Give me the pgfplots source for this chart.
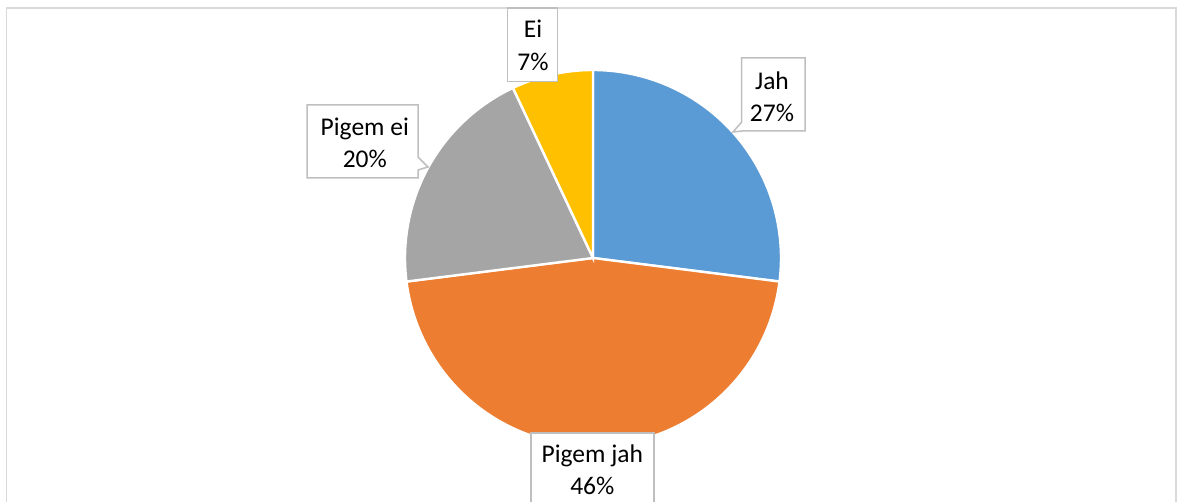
\documentclass[border=0pt]{standalone}
\usepackage{pgfplots}
\pgfplotsset{compat=1.18}
\usepackage{fontspec}
\setmainfont{Carlito}
\definecolor{pblue}{HTML}{5B9BD5}
\definecolor{porange}{HTML}{ED7D31}
\definecolor{pgray}{HTML}{A5A5A5}
\definecolor{pgold}{HTML}{FFC000}
\definecolor{frame}{HTML}{D9D9D9}
\definecolor{boxc}{HTML}{BFBFBF}
% shares (percent), clockwise from 12 o'clock
\def\vA{27}\def\vB{46}\def\vC{20}\def\vD{7}
\def\cx{593}\def\cy{258}\def\rr{188}
\begin{document}
\begin{tikzpicture}
\path[use as bounding box] (0,0) rectangle (589.5pt,251pt);
\clip (0,0) rectangle (589.5pt,251pt);
\begin{axis}[at={(0,0)}, anchor=south west, scale only axis,
  width=589.5pt, height=251pt, xmin=0, xmax=1179, ymin=0, ymax=502,
  y dir=reverse, hide axis, clip=false]
\draw[frame, line width=0.75pt] (axis cs:6.5,8) rectangle (axis cs:1176,600);
% slices
\addplot[draw=white, line width=1.2pt, fill=pblue, samples=80,
  domain={90-\vA*3.6}:90] ({\cx+\rr*cos(x)},{\cy-\rr*sin(x)}) -- (axis cs:\cx,\cy) -- cycle;
\addplot[draw=white, line width=1.2pt, fill=porange, samples=120,
  domain={90-(\vA+\vB)*3.6}:{90-\vA*3.6}] ({\cx+\rr*cos(x)},{\cy-\rr*sin(x)}) -- (axis cs:\cx,\cy) -- cycle;
\addplot[draw=white, line width=1.2pt, fill=pgray, samples=80,
  domain={90-(\vA+\vB+\vC)*3.6}:{90-(\vA+\vB)*3.6}] ({\cx+\rr*cos(x)},{\cy-\rr*sin(x)}) -- (axis cs:\cx,\cy) -- cycle;
\addplot[draw=white, line width=1.2pt, fill=pgold, samples=40,
  domain={90-(\vA+\vB+\vC+\vD)*3.6}:{90-(\vA+\vB+\vC)*3.6}] ({\cx+\rr*cos(x)},{\cy-\rr*sin(x)}) -- (axis cs:\cx,\cy) -- cycle;
% callout boxes
\draw[boxc, fill=white, line width=0.75pt] (axis cs:741.7,58) -- (axis cs:805,58) -- (axis cs:805,131) -- (axis cs:742,131) -- (axis cs:733,132) -- (axis cs:741.7,122) -- cycle;
\draw[boxc, fill=white, line width=0.75pt] (axis cs:507.7,8) rectangle (axis cs:557.7,81.5);
\draw[boxc, fill=white, line width=0.75pt] (axis cs:307,105) -- (axis cs:418,105) -- (axis cs:418,157) -- (axis cs:428,167) -- (axis cs:418,170) -- (axis cs:418,178) -- (axis cs:307,178) -- cycle;
\draw[boxc, fill=white, line width=0.75pt] (axis cs:531,433) rectangle (axis cs:654,520);
% labels
\tikzset{lab/.style={align=center, inner sep=0pt, text=black, font=\fontsize{12.75}{16.25}\selectfont}}
\node[lab] at (axis cs:772,96.8) {Jah\\27\%};
\node[lab] at (axis cs:533,45.3) {Ei\\7\%};
\node[lab] at (axis cs:364.8,142.8) {Pigem ei\\20\%};
\node[lab] at (axis cs:592.3,470) {Pigem jah\\46\%};
\end{axis}
\end{tikzpicture}
\end{document}
